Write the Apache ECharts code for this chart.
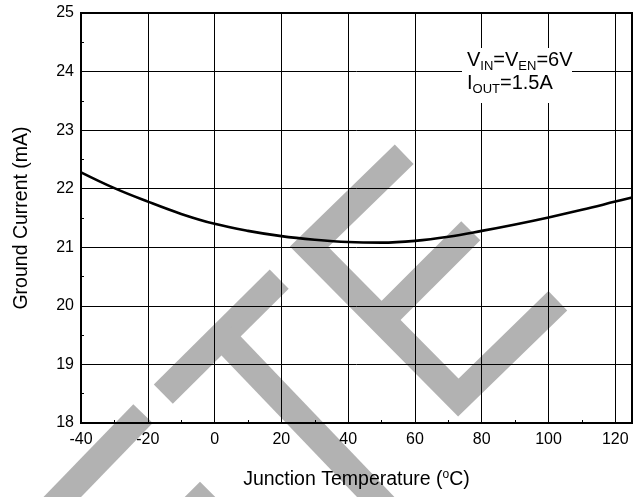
<!DOCTYPE html>
<html><head><meta charset="utf-8">
<script src="https://cdn.jsdelivr.net/npm/echarts@6/dist/echarts.min.js"></script>
<style>html,body{margin:0;padding:0;background:#fff}#c{width:644px;height:497px}</style>
</head><body><div id="c"></div>
<script>
// Data
const temperatures = [-40, -30, -20, -10, 0, 10, 20, 30, 40, 50, 60, 70, 80, 90, 100, 110, 120, 125];
const groundCurrent = [22.28, 22.01, 21.78, 21.57, 21.40, 21.28, 21.19, 21.13, 21.09, 21.08, 21.11, 21.18, 21.28, 21.39, 21.51, 21.64, 21.78, 21.85];
const xTickLabels = [-40, -20, 0, 20, 40, 60, 80, 100, 120];
const xMax = 125;
const yTickLabels = [18, 19, 20, 21, 22, 23, 24, 25];
const xTitle = 'Junction Temperature ({sup|o}C)';
const yTitle = 'Ground Current (mA)';
const noteLines = ['{m|V}{s|IN}{m|=V}{s|EN}{m|=6V}', '{m|I}{s|OUT}{m|=1.5A}'];

const FONT = 'Liberation Sans, Arial, sans-serif';
const TICKSIZE = 16;

const chart = echarts.init(document.getElementById('c'), null, {renderer: 'canvas'});

const wm = {stroke: '#b2b2b2', lineWidth: 27, lineJoin: 'miter', lineCap: 'butt', fill: null};
function wmLine(points) {
  return {type: 'polyline', silent: true, z: -10, shape: {points: points}, style: Object.assign({}, wm)};
}

const axisCommon = {
  axisLine: {show: true, onZero: false, lineStyle: {color: '#000', width: 2}},
  axisTick: {show: true, inside: true, length: 4, lineStyle: {color: '#000', width: 1}},
  minorTick: {show: true, splitNumber: 2, length: 3, lineStyle: {color: '#000', width: 1}},
  splitLine: {show: true, lineStyle: {color: '#000', width: 1}},
  minorSplitLine: {show: false}
};

chart.setOption({
  animation: false,
  backgroundColor: '#fff',
  grid: {left: 81, right: 12, top: 13, bottom: 74, show: true, borderColor: '#000', borderWidth: 2, backgroundColor: 'transparent'},
  xAxis: Object.assign({
    type: 'value',
    min: xTickLabels[0],
    max: xMax,
    interval: xTickLabels[1] - xTickLabels[0],
    axisLabel: {color: '#000', fontSize: TICKSIZE, fontFamily: FONT, margin: 9, showMaxLabel: false},
    name: xTitle,
    nameLocation: 'middle',
    nameGap: 46,
    nameTextStyle: {color: '#000', fontSize: 19.5, lineHeight: 22, fontFamily: FONT,
      rich: {sup: {fontSize: 12, lineHeight: 12, verticalAlign: 'top', color: '#000', fontFamily: FONT}}}
  }, axisCommon),
  yAxis: Object.assign({
    type: 'value',
    min: yTickLabels[0],
    max: yTickLabels[yTickLabels.length - 1],
    interval: yTickLabels[1] - yTickLabels[0],
    axisLabel: {color: '#000', fontSize: TICKSIZE, fontFamily: FONT, margin: 7},
    name: yTitle,
    nameLocation: 'middle',
    nameGap: 48,
    nameTextStyle: {color: '#000', fontSize: 19.5, lineHeight: 22, fontFamily: FONT}
  }, axisCommon),
  series: [{
    type: 'line',
    data: temperatures.map((t, i) => [t, groundCurrent[i]]),
    smooth: 0.4,
    symbol: 'none',
    lineStyle: {color: '#000', width: 2.6},
    z: 5
  }],
  graphic: [
    // watermark (decoration)
    wmLine([[404.2, 154.2], [309.1, 246.7], [458.3, 397.6], [557.8, 300.8]]),
    wmLine([[381.2, 320.3], [470.8, 230.8]]),
    wmLine([[163.3, 394.2], [279.2, 279.2]]),
    wmLine([[221.7, 336.2], [392, 514]]),
    wmLine([[143, 413.7], [40, 520]]),
    wmLine([[150, 550.8], [200, 500.8], [250, 550.8]]),
    // annotation box
    {type: 'rect', z: 50, silent: true, shape: {x: 462, y: 48, width: 110, height: 55}, style: {fill: '#fff'}},
    {type: 'text', z: 51, silent: true, x: 467, y: 50,
      style: {
        text: noteLines.join('\n'),
        fill: '#000', fontFamily: FONT, fontSize: 20, verticalAlign: 'top', align: 'left',
        rich: {
          m: {fontSize: 20, lineHeight: 23, verticalAlign: 'top', fill: '#000', fontFamily: FONT},
          s: {fontSize: 13, lineHeight: 13, padding: [10, 0, 0, 0], verticalAlign: 'top', fill: '#000', fontFamily: FONT}
        }
      }}
  ]
});
</script>
</body></html>
